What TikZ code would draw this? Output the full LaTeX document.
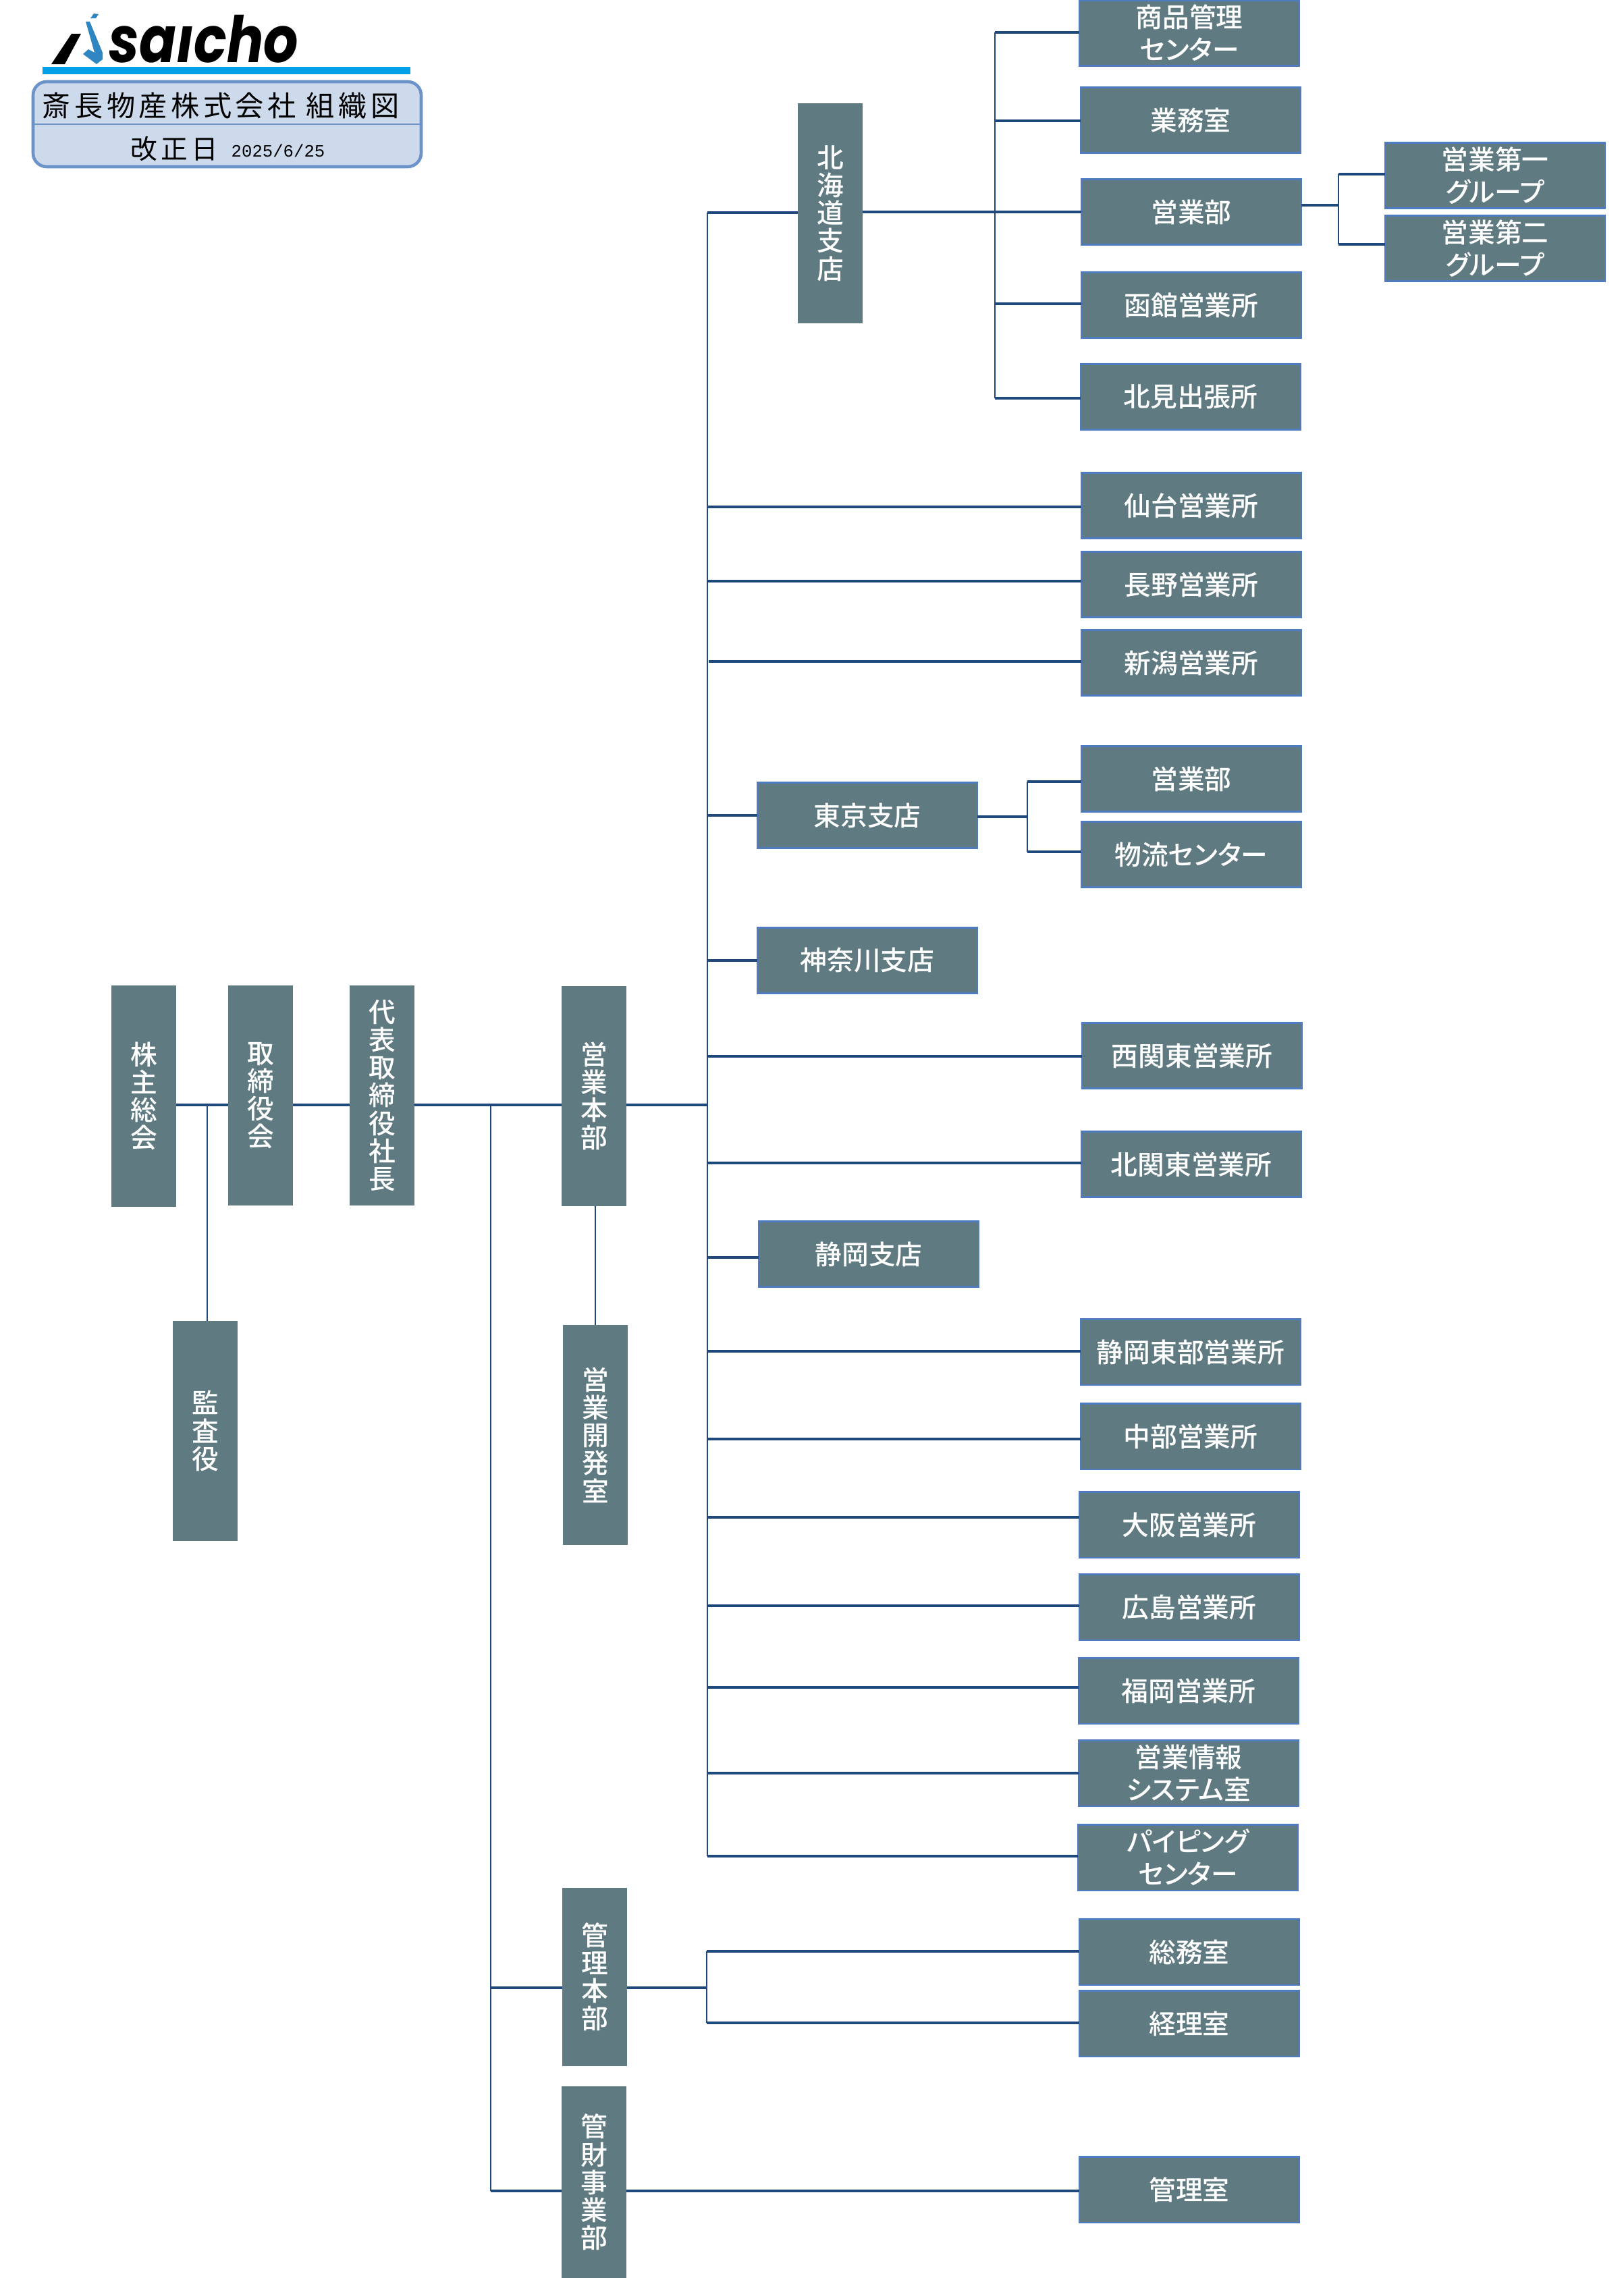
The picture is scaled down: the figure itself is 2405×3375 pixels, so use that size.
\documentclass[tikz,border=0pt]{standalone}
\usepackage{fontspec}
\setmainfont[RawFeature=+palt]{Noto Sans CJK JP Medium}
\newfontfamily\titlefont[LetterSpace=13]{Noto Sans CJK JP}
\newfontfamily\logofont{Poppins Bold Italic}
\newfontfamily\datefont{Liberation Mono}
\definecolor{unitfill}{HTML}{5F7A80}
\definecolor{unitedge}{HTML}{4F7CC0}
\definecolor{linkblue}{HTML}{1F497D}
\definecolor{logoblue}{HTML}{2F86C1}
\definecolor{logobar}{HTML}{00A0E9}
\definecolor{plateedge}{HTML}{6C93C9}
\definecolor{platefill}{HTML}{CCDAEC}
\tikzset{
	unit/.style={fill=unitfill,draw=unitedge,line width=.6pt,text=white,inner sep=0pt,outer sep=0pt,
		minimum width=3.26cm,minimum height=.97cm,align=center,font=\fontsize{11.3}{13.6}\selectfont},
	tall/.style={unit,draw=none,minimum width=.96cm,font=\fontsize{11.3}{11.7}\selectfont},
	link/.style={draw=linkblue,line width=.95pt},
	thinlink/.style={draw=linkblue,line width=.7pt}
}
\newcommand{\branch}[3]{\coordinate (#3-j) at (#1,#2);
	\draw[link] (#3-j) -- (#3-j -| #3.west)}

\begin{document}
\begin{tikzpicture}[x=.01cm,y=-.01cm]
\useasboundingbox (0,0) rectangle (2405,3375);
% logo and title plate
\fill (76,95) -- (106,50) -- (120,50) -- (96,95) -- cycle;
\fill[logoblue] (127,32) -- (133,32) -- (152,78) -- (152,88) -- (143,95) -- (123,80) -- (131,73) -- (140,78) -- cycle;
\fill[logoblue] (134,27) -- (139,20) -- (146,21) -- (142,27) -- cycle;
\node[font=\logofont\fontsize{27}{27}\selectfont,anchor=base west,inner sep=0pt,transform shape,xscale=.85] (logotext) at (161,92) {saıcho};
\fill[logobar] (63,99) rectangle (608,110);
\draw[draw=plateedge,line width=1.3pt,fill=platefill,rounded corners=.2cm] (49,121) rectangle (624,247);
\draw[draw=plateedge,line width=.7pt] (49,184) -- (624,184);
\node[anchor=west,inner sep=0pt,font=\titlefont\fontsize{12}{14}\selectfont] (plate) at (62,157) {斎長物産株式会社 組織図};
\node[anchor=west,inner sep=0pt,font=\titlefont\fontsize{11.3}{14}\selectfont] (revised) at (193,220) {改正日};
\node[anchor=west,inner sep=0pt,font=\datefont\fontsize{7.3}{9}\selectfont] (revdate) at (342,223) {2025/6/25};
%
\node[tall,minimum height=3.27cm] (kabunushi) at (213,1624) {株\\主\\総\\会};
\node[tall,minimum height=3.26cm] (torishimari) at (386,1623) {取\\締\\役\\会};
\node[tall,minimum height=3.26cm] (shacho) at (566,1623) {代\\表\\取\\締\\役\\社\\長};
\node[tall,minimum height=3.26cm] (eigyohonbu) at (880,1624) {営\\業\\本\\部};
\node[tall,minimum height=3.25cm] (kansa) at (304,2120) {監\\査\\役};
\node[tall,minimum height=3.25cm] (kaihatsu) at (882,2126) {営\\業\\開\\発\\室};
\node[tall,minimum height=2.64cm] (kanrihonbu) at (881,2929) {管\\理\\本\\部};
\node[tall,minimum height=2.83cm] (kanzai) at (880,3233) {管\\財\\事\\業\\部};
%
\node[tall,minimum height=3.25cm] (hokkaido) at (1230,316) {北\\海\\道\\支\\店};
\node[unit] (shohin) at (1762,49) {商品管理\\センター};
\node[unit] (gyomu) at (1764,178) {業務室};
\node[unit] (eigyo) at (1765,314) {営業部};
\node[unit] (hakodate) at (1765,452) {函館営業所};
\node[unit] (kitami) at (1764,588) {北見出張所};
\node[unit] (group1) at (2215,260) {営業第一\\グループ};
\node[unit] (group2) at (2215,368) {営業第二\\グループ};
%
\node[unit] (sendai) at (1765,749) {仙台営業所};
\node[unit] (nagano) at (1765,866) {長野営業所};
\node[unit] (niigata) at (1765,982) {新潟営業所};
\node[unit] (tokyo) at (1285,1208) {東京支店};
\node[unit] (tokyoeigyo) at (1765,1154) {営業部};
\node[unit] (butsuryu) at (1765,1266) {物流センター};
\node[unit] (kanagawa) at (1285,1423) {神奈川支店};
\node[unit] (nishikanto) at (1766,1564) {西関東営業所};
\node[unit] (kitakanto) at (1765,1725) {北関東営業所};
\node[unit] (shizuoka) at (1287,1858) {静岡支店};
\node[unit] (shizutobu) at (1764,2003) {静岡東部営業所};
\node[unit] (chubu) at (1764,2128) {中部営業所};
\node[unit] (osaka) at (1762,2259) {大阪営業所};
\node[unit] (hiroshima) at (1762,2381) {広島営業所};
\node[unit] (fukuoka) at (1761,2505) {福岡営業所};
\node[unit] (joho) at (1761,2627) {営業情報\\システム室};
\node[unit] (piping) at (1760,2752) {パイピング\\センター};
\node[unit] (somu) at (1762,2892) {総務室};
\node[unit] (keiri) at (1762,2998) {経理室};
\node[unit] (kanri) at (1762,3244) {管理室};
%
\coordinate (mainy) at (0,1637);
\coordinate (auditj) at (307,1637);
\coordinate (leftj) at (727,1637);
\coordinate (rightj) at (1048,1637);
\draw[link] (kabunushi.east |- mainy) -- (torishimari.west |- mainy);
\draw[link] (torishimari.east |- mainy) -- (shacho.west |- mainy);
\draw[link] (shacho.east |- mainy) -- (eigyohonbu.west |- mainy);
\draw[link] (eigyohonbu.east |- mainy) -- (rightj);
\draw[thinlink] (auditj) -- (auditj |- kansa.north);
\draw[thinlink] (eigyohonbu.south -| kaihatsu.north) -- (kaihatsu.north);
%
\coordinate (trunktop) at (1048,315);
\coordinate (trunkend) at (1048,2750);
\draw[thinlink] (trunktop) -- (trunkend);
\draw[link] (trunktop) -- (trunktop -| hokkaido.west);
\draw[link] (trunkend) -- (trunkend -| piping.west);
\branch{1048}{751}{sendai};
\branch{1048}{861}{nagano};
\branch{1050}{980}{niigata};
\branch{1048}{1208}{tokyo};
\branch{1048}{1423}{kanagawa};
\branch{1048}{1565}{nishikanto};
\branch{1048}{1723}{kitakanto};
\branch{1048}{1863}{shizuoka};
\branch{1048}{2002}{shizutobu};
\branch{1048}{2132}{chubu};
\branch{1048}{2248}{osaka};
\branch{1048}{2379}{hiroshima};
\branch{1048}{2500}{fukuoka};
\branch{1048}{2627}{joho};
%
\coordinate (hktop) at (1474,48);
\coordinate (hkend) at (1474,590);
\draw[thinlink] (hktop) -- (hkend);
\draw[link] (hktop) -- (hktop -| shohin.west);
\draw[link] (hkend) -- (hkend -| kitami.west);
\draw[link] (hokkaido.east |- eigyo.west) -- (eigyo.west);
\branch{1474}{179}{gyomu};
\branch{1474}{450}{hakodate};
%
\coordinate (grouptop) at (1983,258);
\coordinate (groupend) at (1983,362);
\draw[link] (eigyo.east |- 0,304) -- (1983,304);
\draw[thinlink] (grouptop) -- (groupend);
\draw[link] (grouptop) -- (grouptop -| group1.west);
\draw[link] (groupend) -- (groupend -| group2.west);
%
\coordinate (tokyotop) at (1522,1158);
\coordinate (tokyoend) at (1522,1262);
\draw[link] (tokyo.east |- 0,1210) -- (1522,1210);
\draw[thinlink] (tokyotop) -- (tokyoend);
\draw[link] (tokyotop) -- (tokyotop -| tokyoeigyo.west);
\draw[link] (tokyoend) -- (tokyoend -| butsuryu.west);
%
\coordinate (lowertop) at (727,1637);
\coordinate (lowerend) at (727,3246);
\draw[thinlink] (lowertop) -- (lowerend);
\branch{727}{2945}{kanrihonbu};
\draw[link] (lowerend) -- (lowerend -| kanzai.west);
\draw[link] (kanzai.east |- lowerend) -- (lowerend -| kanri.west);
%
\coordinate (admintop) at (1047,2891);
\coordinate (adminend) at (1047,2997);
\draw[link] (kanrihonbu.east |- 0,2945) -- (1047,2945);
\draw[thinlink] (admintop) -- (adminend);
\draw[link] (admintop) -- (admintop -| somu.west);
\draw[link] (adminend) -- (adminend -| keiri.west);
\end{tikzpicture}
\end{document}
